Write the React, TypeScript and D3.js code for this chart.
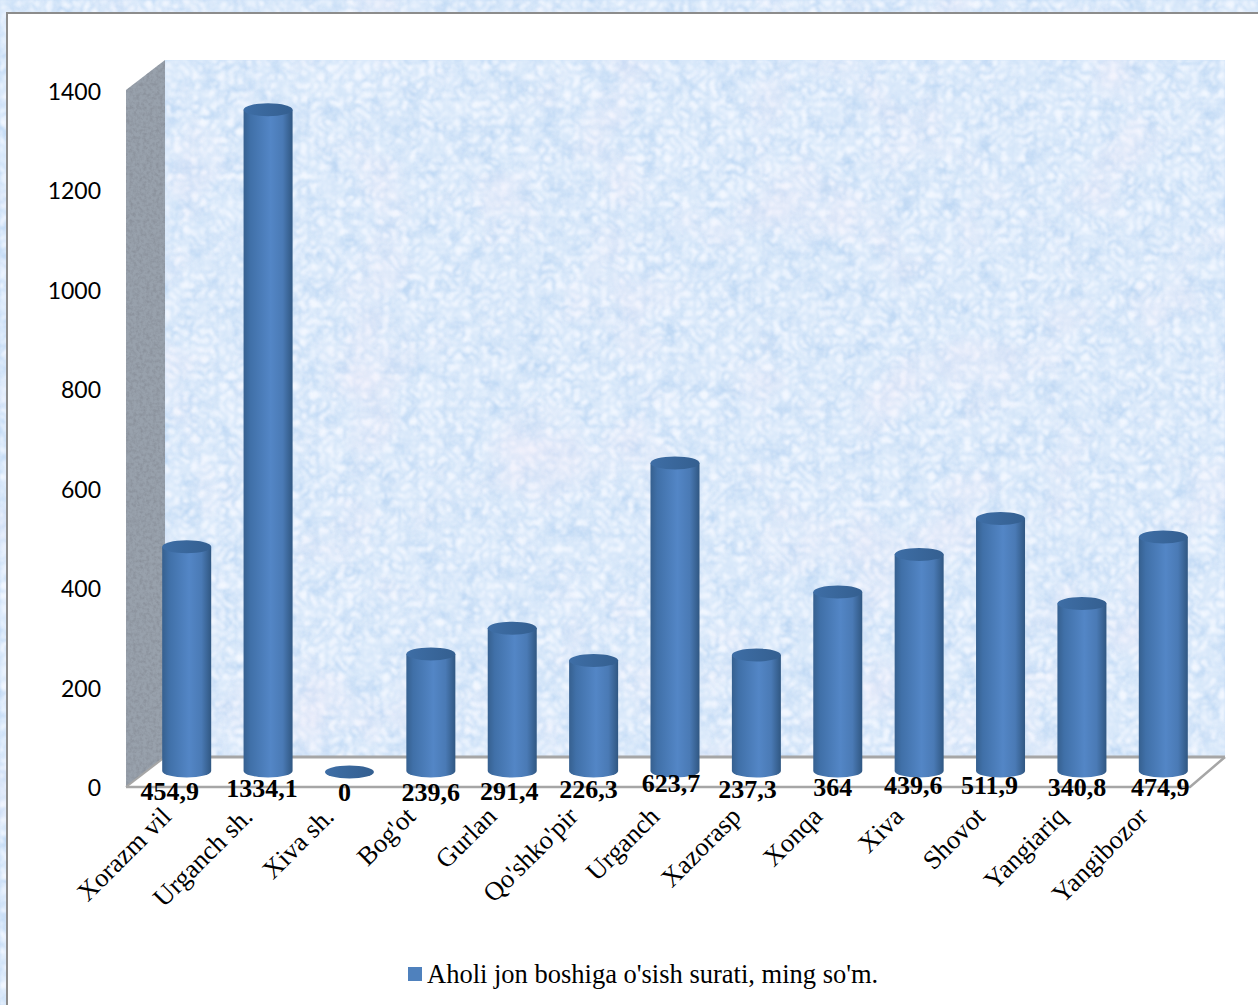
import React from 'react';
import * as d3 from 'd3';

const categories = ['Xorazm vil', 'Urganch sh.', 'Xiva sh.', "Bog'ot", 'Gurlan', "Qo'shko'pir", 'Urganch', 'Xazorasp', 'Xonqa', 'Xiva', 'Shovot', 'Yangiariq', 'Yangibozor'];
const values = [454.9, 1334.1, 0, 239.6, 291.4, 226.3, 623.7, 237.3, 364, 439.6, 511.9, 340.8, 474.9];
const valueLabels = ['454,9', '1334,1', '0', '239,6', '291,4', '226,3', '623,7', '237,3', '364', '439,6', '511,9', '340,8', '474,9'];
const yTicks = [0, 200, 400, 600, 800, 1000, 1200, 1400];
const seriesName = "Aholi jon boshiga o'sish surati, ming so'm.";

// the data labels were dragged by hand in the original, so each has its own nudge
const labelDx = [-17, -6, -5, 0, -3, -5, -4, -9, -5, -6, -11, -5, -3];
const labelBaseline = [800, 797, 801, 801, 800, 798, 792, 798, 796, 794, 794, 796, 796];

const W = 1258;
const H = 1005;
const floorY = 787;
const backY = 757;
const wallLeft = 165;
const wallRight = 1225;
const frontLeft = 126;
const frontRight = 1190;
const wallTop = 60;
const axisTop = 90;

const y = d3.scaleLinear().domain([0, 1400]).range([786, axisTop]);
const barY = d3.scaleLinear().domain([0, 1400]).range([773, 77]);
const x = d3.scaleBand<string>().domain(categories).range([146, 1204]);
const rx = 24.5;
const ry = 6.5;

const Marble = ({ id, seed }: { id: string; seed: number }) => (
  <filter id={id} x="0" y="0" width="100%" height="100%" colorInterpolationFilters="sRGB">
    {/* pale fibres */}
    <feTurbulence type="turbulence" baseFrequency="0.11" numOctaves="3" seed={seed} result="fine" />
    <feColorMatrix in="fine" type="matrix" values="0 0 0 0 0.95  0 0 0 0 0.97  0 0 0 0 1  1.7 0 0 0 -0.08" result="light0" />
    <feGaussianBlur in="light0" stdDeviation="0.9" result="light" />
    {/* darker blue mottling */}
    <feTurbulence type="fractalNoise" baseFrequency="0.05" numOctaves="4" seed={seed + 5} result="soft" />
    <feColorMatrix in="soft" type="matrix" values="0 0 0 0 0.72  0 0 0 0 0.83  0 0 0 0 0.95  0 2.4 0 0 -0.95" result="dark0" />
    <feGaussianBlur in="dark0" stdDeviation="0.7" result="dark" />
    {/* faint pink patches */}
    <feTurbulence type="fractalNoise" baseFrequency="0.012" numOctaves="3" seed={seed + 9} result="wide" />
    <feColorMatrix in="wide" type="matrix" values="0 0 0 0 0.95  0 0 0 0 0.92  0 0 0 0 0.97  1.1 0 0 0 -0.58" result="pink" />
    <feMerge>
      <feMergeNode in="dark" />
      <feMergeNode in="light" />
      <feMergeNode in="pink" />
    </feMerge>
  </filter>
);

export default function App() {
  document.body.style.margin = '0';
  const sideWall = d3.line()([
    [frontLeft, axisTop], [wallLeft, wallTop], [wallLeft, backY], [frontLeft, floorY],
  ]) + 'Z';
  const serif = '"Liberation Serif", "Times New Roman", serif';

  return (
    <svg width={W} height={H} style={{ display: 'block' }}>
      <defs>
        <Marble id="marble" seed={7} />
        <filter id="grain" x="0" y="0" width="100%" height="100%" colorInterpolationFilters="sRGB">
          <feTurbulence type="fractalNoise" baseFrequency="0.3" numOctaves="3" seed="3" />
          <feColorMatrix type="matrix" values="0 0 0 0 0.5  0 0 0 0 0.52  0 0 0 0 0.56  1.2 0 0 0 -0.45" />
        </filter>
        <linearGradient id="cyl" x1="0" x2="1" y1="0" y2="0">
          <stop offset="0" stopColor="#36608f" />
          <stop offset="0.14" stopColor="#4070a8" />
          <stop offset="0.55" stopColor="#5386c6" />
          <stop offset="0.8" stopColor="#4a7ab5" />
          <stop offset="1" stopColor="#305782" />
        </linearGradient>
        <linearGradient id="cap" x1="0" x2="1" y1="0" y2="0">
          <stop offset="0" stopColor="#3e6ea6" />
          <stop offset="1" stopColor="#345f90" />
        </linearGradient>
      </defs>

      <rect width={W} height={H} fill="#d3e5f9" />
      <rect width={W} height={H} fill="#fff" filter="url(#marble)" />
      <rect x={7} y={13} width={W + 10} height={H + 10} fill="#fff" stroke="#8c8c8c" strokeWidth={2} />

      {/* walls */}
      <rect x={wallLeft} y={wallTop} width={wallRight - wallLeft} height={backY - wallTop} fill="#d3e5f9" />
      <rect x={wallLeft} y={wallTop} width={wallRight - wallLeft} height={backY - wallTop} fill="#fff" filter="url(#marble)" />
      <path d={sideWall} fill="#98a1ac" />
      <clipPath id="side"><path d={sideWall} /></clipPath>
      <g clipPath="url(#side)">
        <rect x={frontLeft} y={wallTop} width={wallLeft - frontLeft} height={floorY - wallTop} filter="url(#grain)" />
      </g>

      {/* floor edges */}
      <g stroke="#a6a6a6" strokeWidth={3} fill="none">
        <path d={`M${wallLeft},${backY}H${wallRight}`} />
        <path d={`M${frontLeft},${floorY}H${frontRight}L${wallRight},${backY}`} strokeWidth={2.5} />
        <path d={`M${frontLeft},${floorY}L${wallLeft},${backY}`} strokeWidth={2} />
      </g>

      {/* y ticks */}
      {yTicks.map(t => (
        <text key={t} x={101} y={y(t) + 10} textAnchor="end" fontFamily="Lato, sans-serif" fontSize={23} fill="#000">{t}</text>
      ))}

      {/* cylinders */}
      {categories.map((c, i) => {
        const cx = x(c)! + x.bandwidth() / 2;
        const base = 771;
        const top = Math.min(barY(values[i]), base + 1);
        return (
          <g key={c}>
            {values[i] > 0 && (
              <path
                d={`M${cx - rx},${top}V${base}A${rx},${ry} 0 0 0 ${cx + rx},${base}V${top}Z`}
                fill="url(#cyl)"
              />
            )}
            <ellipse cx={cx} cy={top} rx={rx} ry={ry} fill="url(#cap)" />
          </g>
        );
      })}

      {/* data labels */}
      {categories.map((c, i) => (
        <text
          key={c}
          x={x(c)! + x.bandwidth() / 2 + labelDx[i]}
          y={labelBaseline[i]}
          textAnchor="middle"
          fontFamily={serif}
          fontWeight="bold"
          fontSize={26}
          fill="#000"
        >
          {valueLabels[i]}
        </text>
      ))}

      {/* category labels */}
      {categories.map(c => {
        const cx = x(c)! + x.bandwidth() / 2;
        return (
          <text
            key={c}
            transform={`translate(${cx - 14},${818}) rotate(-45)`}
            textAnchor="end"
            fontFamily={serif}
            fontSize={26.5}
            fill="#000"
          >
            {c}
          </text>
        );
      })}

      {/* legend */}
      <rect x={408} y={967} width={14} height={14} fill="#4f81bd" />
      <text x={427} y={983} fontFamily={serif} fontSize={26.5} fill="#000">{seriesName}</text>
    </svg>
  );
}
